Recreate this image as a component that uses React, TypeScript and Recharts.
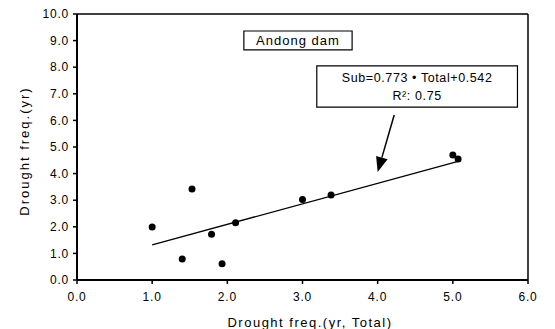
import React from 'react';
import {
  ScatterChart, Scatter, XAxis, YAxis, ReferenceLine, ReferenceArea, Label,
} from 'recharts';

const totalFreq = [1.0, 1.4, 1.53, 1.79, 1.93, 2.11, 3.0, 3.38, 5.0, 5.07];
const subFreq = [1.99, 0.79, 3.42, 1.72, 0.61, 2.15, 3.03, 3.2, 4.7, 4.55];
const trendX = [1.0, 5.07];
const trendY = [1.32, 4.46];
const xTicks = [0, 1, 2, 3, 4, 5, 6];
const yTicks = [0, 1, 2, 3, 4, 5, 6, 7, 8, 9, 10];
const titleText = 'Andong dam';
const eqText = 'Sub=0.773 \u2022 Total+0.542';
const r2Text = 'R\u00b2: 0.75';
const xLabel = 'Drought freq.(yr, Total)';
const yLabel = 'Drought freq.(yr)';

const points = totalFreq.map((x, i) => ({ x, y: subFreq[i] }));
const trend = trendX.map((x, i) => ({ x, y: trendY[i] }));

const FONT = '"Liberation Sans", Arial, sans-serif';

const Arrow = (props: any) => {
  const { x1, y1, x2, y2 } = props;
  const dx = x2 - x1;
  const dy = y2 - y1;
  const len = Math.sqrt(dx * dx + dy * dy) || 1;
  const ux = dx / len;
  const uy = dy / len;
  const headL = 15;
  const headW = 6;
  const bx = x2 - ux * headL;
  const by = y2 - uy * headL;
  const px = -uy;
  const py = ux;
  return (
    <g>
      <line x1={x1} y1={y1} x2={bx} y2={by} stroke="#000" strokeWidth={1.5} />
      <polygon
        points={`${x2},${y2} ${bx + px * headW},${by + py * headW} ${bx - px * headW},${by - py * headW}`}
        fill="#000"
      />
    </g>
  );
};

const NoDot = () => <g />;

export default function App() {
  return (
    <div style={{ position: 'absolute', left: 0, top: 0, background: '#fff' }}>
      <ScatterChart
        width={555}
        height={329}
        margin={{ top: 14, right: 27, bottom: 0, left: 0 }}
        style={{ fontFamily: FONT }}
      >
        <XAxis
          type="number"
          dataKey="x"
          domain={[0, 6]}
          ticks={xTicks}
          allowDataOverflow
          height={49}
          tickFormatter={(v: number) => v.toFixed(1)}
          tick={{ fill: '#000', fontSize: 12, fontFamily: FONT, letterSpacing: 0.8 }}
          tickSize={4}
          tickMargin={8}
          axisLine={{ stroke: '#000', strokeWidth: 2 }}
          tickLine={{ stroke: '#000', strokeWidth: 1.5 }}
        >
          <Label
            content={() => (
              <text
                x={310}
                y={327}
                textAnchor="middle"
                fontSize={13}
                fontFamily={FONT}
                letterSpacing={1.5}
                fill="#000"
              >
                {xLabel}
              </text>
            )}
          />
        </XAxis>
        <YAxis
          type="number"
          dataKey="y"
          domain={[0, 10]}
          ticks={yTicks}
          allowDataOverflow
          width={77}
          tickFormatter={(v: number) => v.toFixed(1)}
          tick={{ fill: '#000', fontSize: 12, fontFamily: FONT, letterSpacing: 0.8 }}
          tickSize={4}
          tickMargin={4}
          axisLine={{ stroke: '#000', strokeWidth: 2 }}
          tickLine={{ stroke: '#000', strokeWidth: 1.5 }}
        >
          <Label
            content={() => (
              <text
                x={29}
                y={151}
                transform="rotate(-90 29 151)"
                textAnchor="middle"
                fontSize={13}
                fontFamily={FONT}
                letterSpacing={2}
                fill="#000"
              >
                {yLabel}
              </text>
            )}
          />
        </YAxis>
        <ReferenceLine y={10} stroke="#000" strokeWidth={1.5} />
        <ReferenceLine x={6} stroke="#000" strokeWidth={1.5} />
        <ReferenceArea
          x1={2.22}
          x2={3.66}
          y1={8.65}
          y2={9.36}
          stroke="#000"
          strokeWidth={1.2}
          fill="#fff"
          fillOpacity={1}
          label={(p: any) => {
            const vb = p.viewBox;
            return (
              <text
                x={vb.x + vb.width / 2}
                y={vb.y + vb.height / 2}
                dominantBaseline="central"
                textAnchor="middle"
                fontSize={13}
                fontFamily={FONT}
                letterSpacing={1}
                fill="#000"
              >
                {titleText}
              </text>
            );
          }}
        />
        <ReferenceArea
          x1={3.19}
          x2={5.86}
          y1={6.5}
          y2={8.05}
          stroke="#000"
          strokeWidth={1.2}
          fill="#fff"
          fillOpacity={1}
          label={(p: any) => {
            const vb = p.viewBox;
            const cx = vb.x + vb.width / 2;
            return (
              <g>
                <text
                  x={cx}
                  y={vb.y + vb.height * 0.3}
                  dominantBaseline="central"
                  textAnchor="middle"
                  fontSize={12.5}
                  fontFamily={FONT}
                  letterSpacing={0.6}
                  fill="#000"
                >
                  {eqText}
                </text>
                <text
                  x={cx}
                  y={vb.y + vb.height * 0.72}
                  dominantBaseline="central"
                  textAnchor="middle"
                  fontSize={12.5}
                  fontFamily={FONT}
                  letterSpacing={0.6}
                  fill="#000"
                >
                  {r2Text}
                </text>
              </g>
            );
          }}
        />
        <ReferenceLine
          segment={[{ x: 4.22, y: 6.2 }, { x: 4.0, y: 4.06 }]}
          stroke="#000"
          shape={Arrow}
        />
        <Scatter
          data={trend}
          line={{ stroke: '#000', strokeWidth: 1.3 }}
          shape={NoDot}
          isAnimationActive={false}
        />
        <Scatter data={points} fill="#000" isAnimationActive={false} shape={(p: any) => (
          <circle cx={p.cx} cy={p.cy} r={3.5} fill="#000" />
        )} />
      </ScatterChart>
    </div>
  );
}
